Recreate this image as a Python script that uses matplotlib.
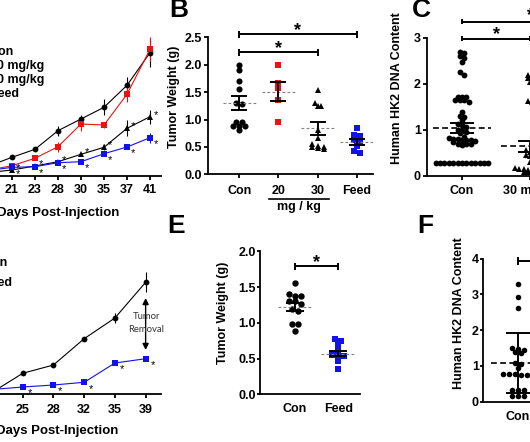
import numpy as np
import matplotlib
matplotlib.use('Agg')
import matplotlib.pyplot as plt
from matplotlib.ticker import FormatStrFormatter

plt.rcParams['font.family'] = ['Liberation Sans', 'DejaVu Sans']
plt.rcParams['font.weight'] = 'bold'
plt.rcParams['axes.labelweight'] = 'bold'
plt.rcParams['axes.linewidth'] = 1.3

RED = '#ee1111'
BLUE = '#1111ee'

# ---- A: tumour growth, four groups (mm^3, mean and sem)
days_a = ['19', '21', '23', '28', '30', '35', '37', '41']
a_con = [97, 184, 264, 450, 567, 684, 904, 1230]
a_con_err = [10, 15, 20, 50, 40, 80, 80, 140]
a_20 = [57, 100, 174, 290, 517, 507, 814, 1264]
a_20_err = [10, 15, 15, 50, 70, 30, 80, 120]
a_30 = [32, 57, 97, 140, 214, 284, 474, 590]
a_30_err = [10, 10, 10, 15, 15, 30, 80, 70]
a_feed = [52, 84, 90, 130, 140, 220, 287, 380]
a_feed_err = [10, 10, 10, 15, 15, 20, 15, 50]
a_labels = ['Con', '20 mg/kg', '30 mg/kg', 'Feed']

# ---- B: tumour weight (g)
b_groups = ['Con', '20', '30', 'Feed']
b_con = [2.00, 1.90, 1.71, 1.55, 1.30, 1.28, 0.96, 0.95, 0.89, 0.89, 0.89, 0.81]
b_20 = [2.00, 1.66, 1.57, 1.36, 0.96]
b_30 = [1.53, 1.31, 1.25, 1.24, 0.81, 0.67, 0.56, 0.52, 0.50, 0.49, 0.48, 0.47]
b_feed = [0.84, 0.72, 0.70, 0.63, 0.60, 0.52, 0.43, 0.38]
b_mean = [1.30, 1.51, 0.84, 0.59]
b_sem = [0.13, 0.18, 0.115, 0.06]

# ---- C: human HK2 DNA content
c_groups = ['Con', '30 mg/kg', 'Feed']
c_con = [2.70, 2.66, 2.60, 2.55, 2.48, 2.25, 2.20,
         1.72, 1.72, 1.72, 1.64, 1.64, 1.64, 1.60,
         1.38, 1.30, 1.27, 1.22,
         1.12, 1.10, 1.05, 1.00, 0.98, 0.95, 0.92,
         0.85, 0.82, 0.80, 0.80, 0.78, 0.78, 0.77, 0.76, 0.74,
         0.70, 0.70, 0.68, 0.68, 0.66] + [0.28] * 13
c_30 = [2.20, 2.16, 2.12, 2.08, 2.04, 1.62, 1.60, 0.55, 0.52, 0.48, 0.45,
        0.42, 0.38, 0.30, 0.16, 0.15, 0.14, 0.13, 0.12, 0.10, 0.10, 0.09,
        0.08, 0.08, 0.07, 0.07]
c_mean = [1.04, 0.635]
c_sem = [0.11, 0.115]

# ---- D: tumour growth, con vs feed
days_d = ['22', '25', '28', '32', '35', '39']
d_con = [15, 207, 290, 553, 760, 1117]
d_con_err = [5, 10, 10, 15, 50, 100]
d_feed = [45, 70, 90, 117, 310, 353]
d_feed_err = [5, 5, 5, 5, 10, 10]

# ---- E: tumour weight (g)
e_groups = ['Con', 'Feed']
e_con = [1.56, 1.41, 1.38, 1.38, 1.31, 1.31, 1.27, 1.20, 1.17, 0.99, 0.99, 0.88]
e_feed = [0.77, 0.74, 0.70, 0.62, 0.55, 0.53, 0.53, 0.46, 0.35]
e_mean = [1.22, 0.57]
e_sem = [0.06, 0.04]

# ---- F: human HK2 DNA content
f_groups = ['Con', 'Feed']
f_con = [3.28, 2.92, 2.63, 1.51, 1.46, 1.44, 1.38, 1.37, 1.07, 1.06, 0.93,
         0.77, 0.76, 0.76, 0.75, 0.75, 0.74, 0.33, 0.32, 0.32, 0.17, 0.16, 0.16]
f_mean = [1.08]
f_sd = [0.85]

W, H = 530, 442
fig = plt.figure(figsize=(W / 100, H / 100), dpi=100)


def box(l, t, r, b):
    # axes placed in pixel coords (top-left origin)
    return fig.add_axes([l / W, 1 - b / H, (r - l) / W, (b - t) / H])


def fx(x):
    return x / W


def fy(y):
    return 1 - y / H


def style(ax, xlen=4, ylen=4, xpad=4, ypad=1.5):
    for s in ('top', 'right'):
        ax.spines[s].set_visible(False)
    ax.tick_params(axis='x', length=xlen * 0.72, width=1.3, pad=xpad, labelsize=9)
    ax.tick_params(axis='y', length=ylen * 0.72, width=1.3, pad=ypad, labelsize=9)


def swarm(vals, ypx, xpx, d=6.0, tol=3.5):
    # group values into rows, spread each row symmetrically
    order = np.argsort(vals)[::-1]
    offs = np.zeros(len(vals))
    rows = []
    for i in order:
        if rows and abs(vals[rows[-1][0]] - vals[i]) * ypx < tol:
            rows[-1].append(i)
        else:
            rows.append([i])
    for r in rows:
        n = len(r)
        for k, i in enumerate(r):
            offs[i] = (k - (n - 1) / 2) * d / xpx
    return offs


def star(ax, x, y, fs=13, dx=0, dy=0, weight='bold'):
    ax.annotate('*', xy=(x, y), xytext=(dx, dy - 0.56 * fs), textcoords='offset points',
                ha='center', va='baseline', fontsize=fs, fontweight=weight,
                annotation_clip=False)


def sigbar(ax, x0, x1, y, h, ystar):
    kw = dict(color='k', lw=1.4, clip_on=False, solid_capstyle='butt')
    ax.plot([x0, x1], [y, y], **kw)
    ax.plot([x0, x0], [y - h, y + h], **kw)
    ax.plot([x1, x1], [y - h, y + h], **kw)
    star(ax, (x0 + x1) / 2, ystar)


def scatter_panel(ax, groups, ypx, xpx, means, errs, half, cap, mean_style, d=6.0):
    for i, (vals, color, marker, ms) in enumerate(groups):
        vals = np.asarray(vals)
        offs = swarm(vals, ypx, xpx, d=d)
        ax.plot(i + offs, vals, ls='none', marker=marker, color=color, ms=ms,
                mew=0, clip_on=False, zorder=3)
    for i, (m, e) in enumerate(zip(means, errs)):
        ax.hlines(m, i - half, i + half, zorder=4, **mean_style)
        ax.errorbar(i, m, yerr=e, fmt='none', ecolor='k', elinewidth=1.4,
                    capsize=cap * 0.72, capthick=1.4, zorder=5, clip_on=False)


# ================= A =================
axA = box(-40, 20, 161, 175.7)
style(axA, xpad=3)
xa = np.arange(len(days_a))
for vals, errs, col, mk, ms in [(a_con, a_con_err, 'k', 'o', 4.2),
                                (a_20, a_20_err, RED, 's', 4.6),
                                (a_30, a_30_err, 'k', '^', 4.6),
                                (a_feed, a_feed_err, BLUE, 's', 4.6)]:
    axA.errorbar(xa, vals, yerr=errs, color=col, marker=mk, ms=ms, mew=0, lw=0.8,
                 elinewidth=0.8, capsize=2.4, capthick=0.8)
for i in range(1, len(days_a)):
    star(axA, xa[i], a_30[i], fs=8, dx=4.3, dy=3.6, weight='normal')
    star(axA, xa[i], a_feed[i], fs=8, dx=4.5, dy=-2.4, weight='normal')
axA.set_xlim(-1.26, 7.478)
axA.set_ylim(0, 1557)
axA.set_xticks(xa, days_a)
axA.spines['left'].set_visible(False)
axA.set_yticks([])
axA.set_xlabel('Days Post-Injection', fontsize=9.5, va='center')
axA.xaxis.set_label_coords(fx(58), fy(213), transform=fig.transFigure)
for i, name in enumerate(a_labels):
    fig.text(fx(-10), fy(52 + 14 * i), name, fontsize=9, va='center', ha='left')

# ================= B =================
axB = box(208.3, 19.8, 373, 174.3)
style(axB, xpad=4.5)
scatter_panel(axB, [(b_con, 'k', 'o', 4.4), (b_20, RED, 's', 4.3),
                    (b_30, 'k', '^', 4.8), (b_feed, BLUE, 's', 4.4)],
              54.8, 39, b_mean, b_sem, 0.43, 8,
              dict(colors='#808080', lw=0.8, linestyles=(0, (2.5, 2))))
axB.set_xlim(-0.795, 3.42)
axB.set_ylim(0, 2.82)
axB.spines['left'].set_bounds(0, 2.5)
axB.set_yticks(np.arange(0, 2.51, 0.5))
axB.yaxis.set_major_formatter(FormatStrFormatter('%.1f'))
axB.set_xticks(range(len(b_groups)), b_groups)
axB.set_ylabel('Tumor Weight (g)', fontsize=9, va='center')
axB.yaxis.set_label_coords(fx(174.5), fy(97), transform=fig.transFigure)
sigbar(axB, 0, 3, 2.555, 0.067, 2.72)
sigbar(axB, 0, 2, 2.226, 0.067, 2.40)
axB.plot([0.75, 2.3], [-0.456, -0.456], color='k', lw=1.2, clip_on=False)
axB.text(1.52, -0.6, 'mg / kg', ha='center', va='center', fontsize=9)
fig.text(fx(169), fy(17), 'B', fontsize=19, va='baseline')

# ================= C =================
axC = box(427, 0, 620, 175.7)
style(axC, xpad=4, ypad=1.5)
scatter_panel(axC, [(c_con, 'k', 'o', 4.2), (c_30, 'k', '^', 4.5)],
              46, 68, c_mean, c_sem, 0.43, 12,
              dict(colors='k', lw=1.2, linestyles=(0, (3.5, 2))), d=4.4)
axC.set_xlim(-0.515, 2.32)
axC.set_ylim(0, 3.82)
axC.spines['left'].set_bounds(0, 3)
axC.set_yticks([0, 1, 2, 3])
axC.set_xticks(range(len(c_groups)), c_groups)
axC.set_ylabel('Human HK2 DNA Content', fontsize=9, va='center')
axC.yaxis.set_label_coords(fx(397), fy(88.5), transform=fig.transFigure)
sigbar(axC, 0, 1, 2.98, 0.06, 3.18)
sigbar(axC, 0, 2, 3.35, 0.06, 3.60)
fig.text(fx(412), fy(17), 'C', fontsize=19, va='baseline')

# ================= D =================
axD = box(-40, 240, 161, 394)
style(axD, xpad=4.5)
xd = np.arange(len(days_d))
for vals, errs, col, mk, ms in [(d_con, d_con_err, 'k', 'o', 4.2),
                                (d_feed, d_feed_err, BLUE, 's', 4.8)]:
    axD.errorbar(xd, vals, yerr=errs, color=col, marker=mk, ms=ms, mew=0, lw=0.8,
                 elinewidth=0.8, capsize=2.4, capthick=0.8)
for i in range(1, len(days_d)):
    star(axD, xd[i], d_feed[i], fs=8, dx=5, dy=-2.4, weight='normal')
axD.annotate('', xy=(5, 960), xytext=(5, 440),
             arrowprops=dict(arrowstyle='<|-|>', color='k', lw=1, mutation_scale=9,
                             shrinkA=0, shrinkB=0))
axD.text(5.03, 710, 'Tumor\nRemoval', ha='center', va='center', fontsize=6.8,
         color='#333333', fontweight='normal', family='Lato', linespacing=1.6)
axD.set_xlim(-1.04, 5.5)
axD.set_ylim(0, 1540)
axD.set_xticks(xd, days_d)
axD.spines['left'].set_visible(False)
axD.set_yticks([])
axD.set_xlabel('Days Post-Injection', fontsize=9.5, va='center')
axD.xaxis.set_label_coords(fx(57), fy(431), transform=fig.transFigure)
for i, name in enumerate(['Con', 'Feed']):
    fig.text(fx(-17), fy(263.5 + 20 * i), name, fontsize=9, va='center', ha='left')

# ================= E =================
axE = box(260, 231.5, 360, 394.3)
style(axE, xlen=0, ylen=3.4, xpad=6, ypad=0.5)
scatter_panel(axE, [(e_con, 'k', 'o', 4.6), (e_feed, BLUE, 's', 4.6)],
              71.4, 43.3, e_mean, e_sem, 0.4, 9,
              dict(colors='#808080', lw=0.8, linestyles=(0, (2.5, 2))))
axE.set_xlim(-0.808, 1.5)
axE.set_ylim(0, 2.28)
axE.spines['left'].set_bounds(0, 2)
axE.set_yticks(np.arange(0, 2.01, 0.5))
axE.yaxis.set_major_formatter(FormatStrFormatter('%.1f'))
axE.set_xticks(range(len(e_groups)), e_groups)
axE.set_ylabel('Tumor Weight (g)', fontsize=9, va='center')
axE.yaxis.set_label_coords(fx(223), fy(313), transform=fig.transFigure)
sigbar(axE, 0, 1, 1.79, 0.047, 1.93)
fig.text(fx(167), fy(233), 'E', fontsize=19, va='baseline')

# ================= F =================
axF = box(483, 224.5, 620, 401.7)
style(axF, xlen=0, ylen=3.4, xpad=7, ypad=0.5)
scatter_panel(axF, [(f_con, 'k', 'o', 4.0)], 35.8, 70, f_mean, f_sd, 0.39, 12,
              dict(colors='k', lw=1.2, linestyles=(0, (3.5, 2))))
axF.set_xlim(-0.5, 1.457)
axF.set_ylim(0, 4.95)
axF.spines['left'].set_bounds(0, 4)
axF.set_yticks([0, 1, 2, 3, 4])
axF.set_xticks(range(len(f_groups)), f_groups)
axF.set_ylabel('Human HK2 DNA Content', fontsize=9, va='center')
axF.yaxis.set_label_coords(fx(459.3), fy(313), transform=fig.transFigure)
sigbar(axF, 0, 1, 3.94, 0.11, 4.2)
fig.text(fx(417), fy(233), 'F', fontsize=19, va='baseline')

fig.savefig('out.png', dpi=100)
